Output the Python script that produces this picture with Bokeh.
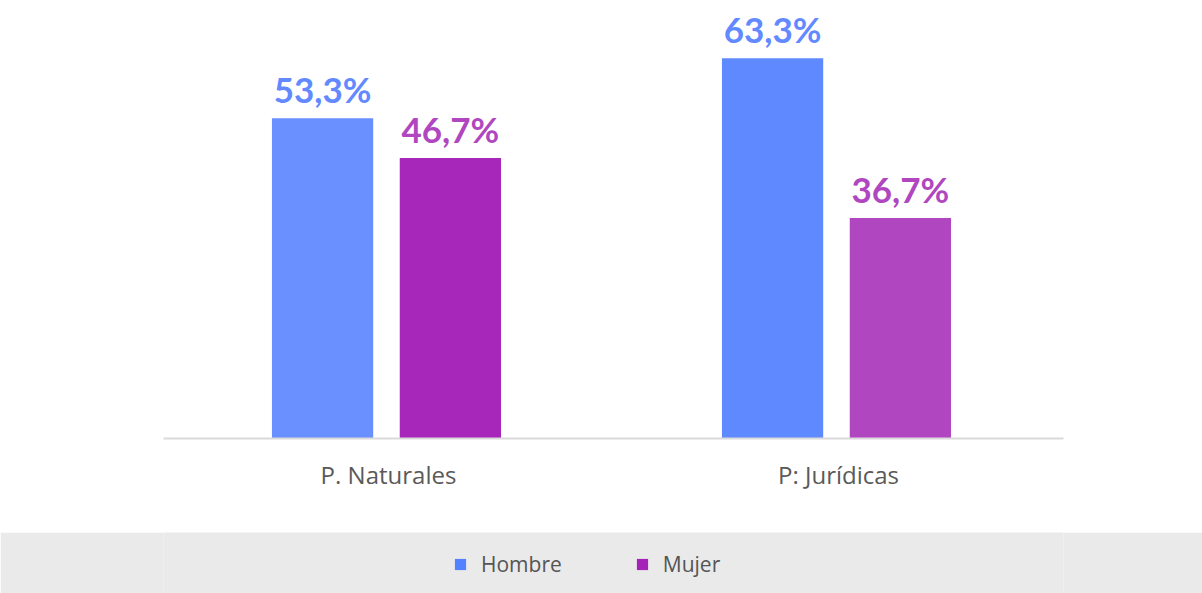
from bokeh.plotting import figure
from bokeh.models import ColumnDataSource, FactorRange, Legend, LegendItem, Range1d
from bokeh.layouts import column
from bokeh.transform import dodge
from bokeh.core.properties import value
from bokeh.embed import file_html
from bokeh.resources import INLINE

categories = ["P. Naturales", "P: Jurídicas"]
series = ["Hombre", "Mujer"]
hombre = [53.3, 63.3]
mujer = [46.7, 36.7]
hombre_labels = ["53,3%", "63,3%"]
mujer_labels = ["46,7%", "36,7%"]

c_h_bar = ["#6A8FFF", "#5F8AFF"]
c_m_bar = ["#A627B9", "#B047C0"]
c_h = "#5282FF"
c_m = "#A524B8"
c_h_lab = "#6289FF"
c_m_lab = "#B047C0"

W = 1202
src = ColumnDataSource(dict(cat=categories, h=hombre, m=mujer, hl=hombre_labels,
                            ml=mujer_labels, hc=c_h_bar, mc=c_m_bar))

p = figure(x_range=FactorRange(*categories), y_range=Range1d(0, 72.9),
           width=W, height=532, output_backend="svg", toolbar_location=None,
           min_border_left=163, min_border_right=W - 163 - 900,
           min_border_top=0, min_border_bottom=94)
p.vbar(x=dodge("cat", -0.1465, range=p.x_range), top="h", width=0.225, source=src,
       fill_color="hc", line_color=None)
p.vbar(x=dodge("cat", 0.1375, range=p.x_range), top="m", width=0.225, source=src,
       fill_color="mc", line_color=None)
p.text(x=dodge("cat", -0.1465, range=p.x_range), y="h", text="hl", source=src,
       text_align="center", text_baseline="bottom", y_offset=-8,
       text_font=value("Lato"), text_font_style="bold", text_font_size="35px",
       text_color=c_h_lab)
p.text(x=dodge("cat", 0.1375, range=p.x_range), y="m", text="ml", source=src,
       text_align="center", text_baseline="bottom", y_offset=-8,
       text_font=value("Lato"), text_font_style="bold", text_font_size="35px",
       text_color=c_m_lab)

p.yaxis.visible = False
p.xgrid.grid_line_color = None
p.ygrid.grid_line_color = None
p.outline_line_color = None
p.xaxis.axis_line_color = "#DADADA"
p.xaxis.axis_line_width = 2
p.xaxis.major_tick_line_color = None
p.xaxis.minor_tick_line_color = None
p.xaxis.major_label_text_font = "Open Sans"
p.xaxis.major_label_text_font_size = "24px"
p.xaxis.major_label_text_color = "#5A5A5A"
p.xaxis.major_label_standoff = 13
p.xaxis.major_label_text_font_style = "normal"

# legend band
p2 = figure(width=W, height=61, output_backend="svg", toolbar_location=None,
            x_range=Range1d(0, 1), y_range=Range1d(0, 1),
            min_border=0, min_border_left=163, min_border_right=W - 163 - 900,
            background_fill_color="#EAEAEA",
            border_fill_color="#EAEAEA", outline_line_color=None)
p2.axis.visible = False
p2.grid.visible = False
r1 = p2.rect(x=[-10], y=[-10], width=1, height=1, fill_color=c_h, line_color=None)
r2 = p2.rect(x=[-10], y=[-10], width=1, height=1, fill_color=c_m, line_color=None)
leg = Legend(items=[LegendItem(label=series[0], renderers=[r1]),
                    LegendItem(label=series[1], renderers=[r2])],
             orientation="horizontal", location=(290, 15), padding=10,
             background_fill_alpha=0, border_line_color=None,
             glyph_width=14, glyph_height=14, label_standoff=14, spacing=73,
             label_height=20,
             label_text_font="Open Sans", label_text_font_size="21px",
             label_text_color="#555555")
p2.add_layout(leg, "center")

lay = column(p, p2, spacing=0)
open("out.html", "w").write(file_html(lay, INLINE))
